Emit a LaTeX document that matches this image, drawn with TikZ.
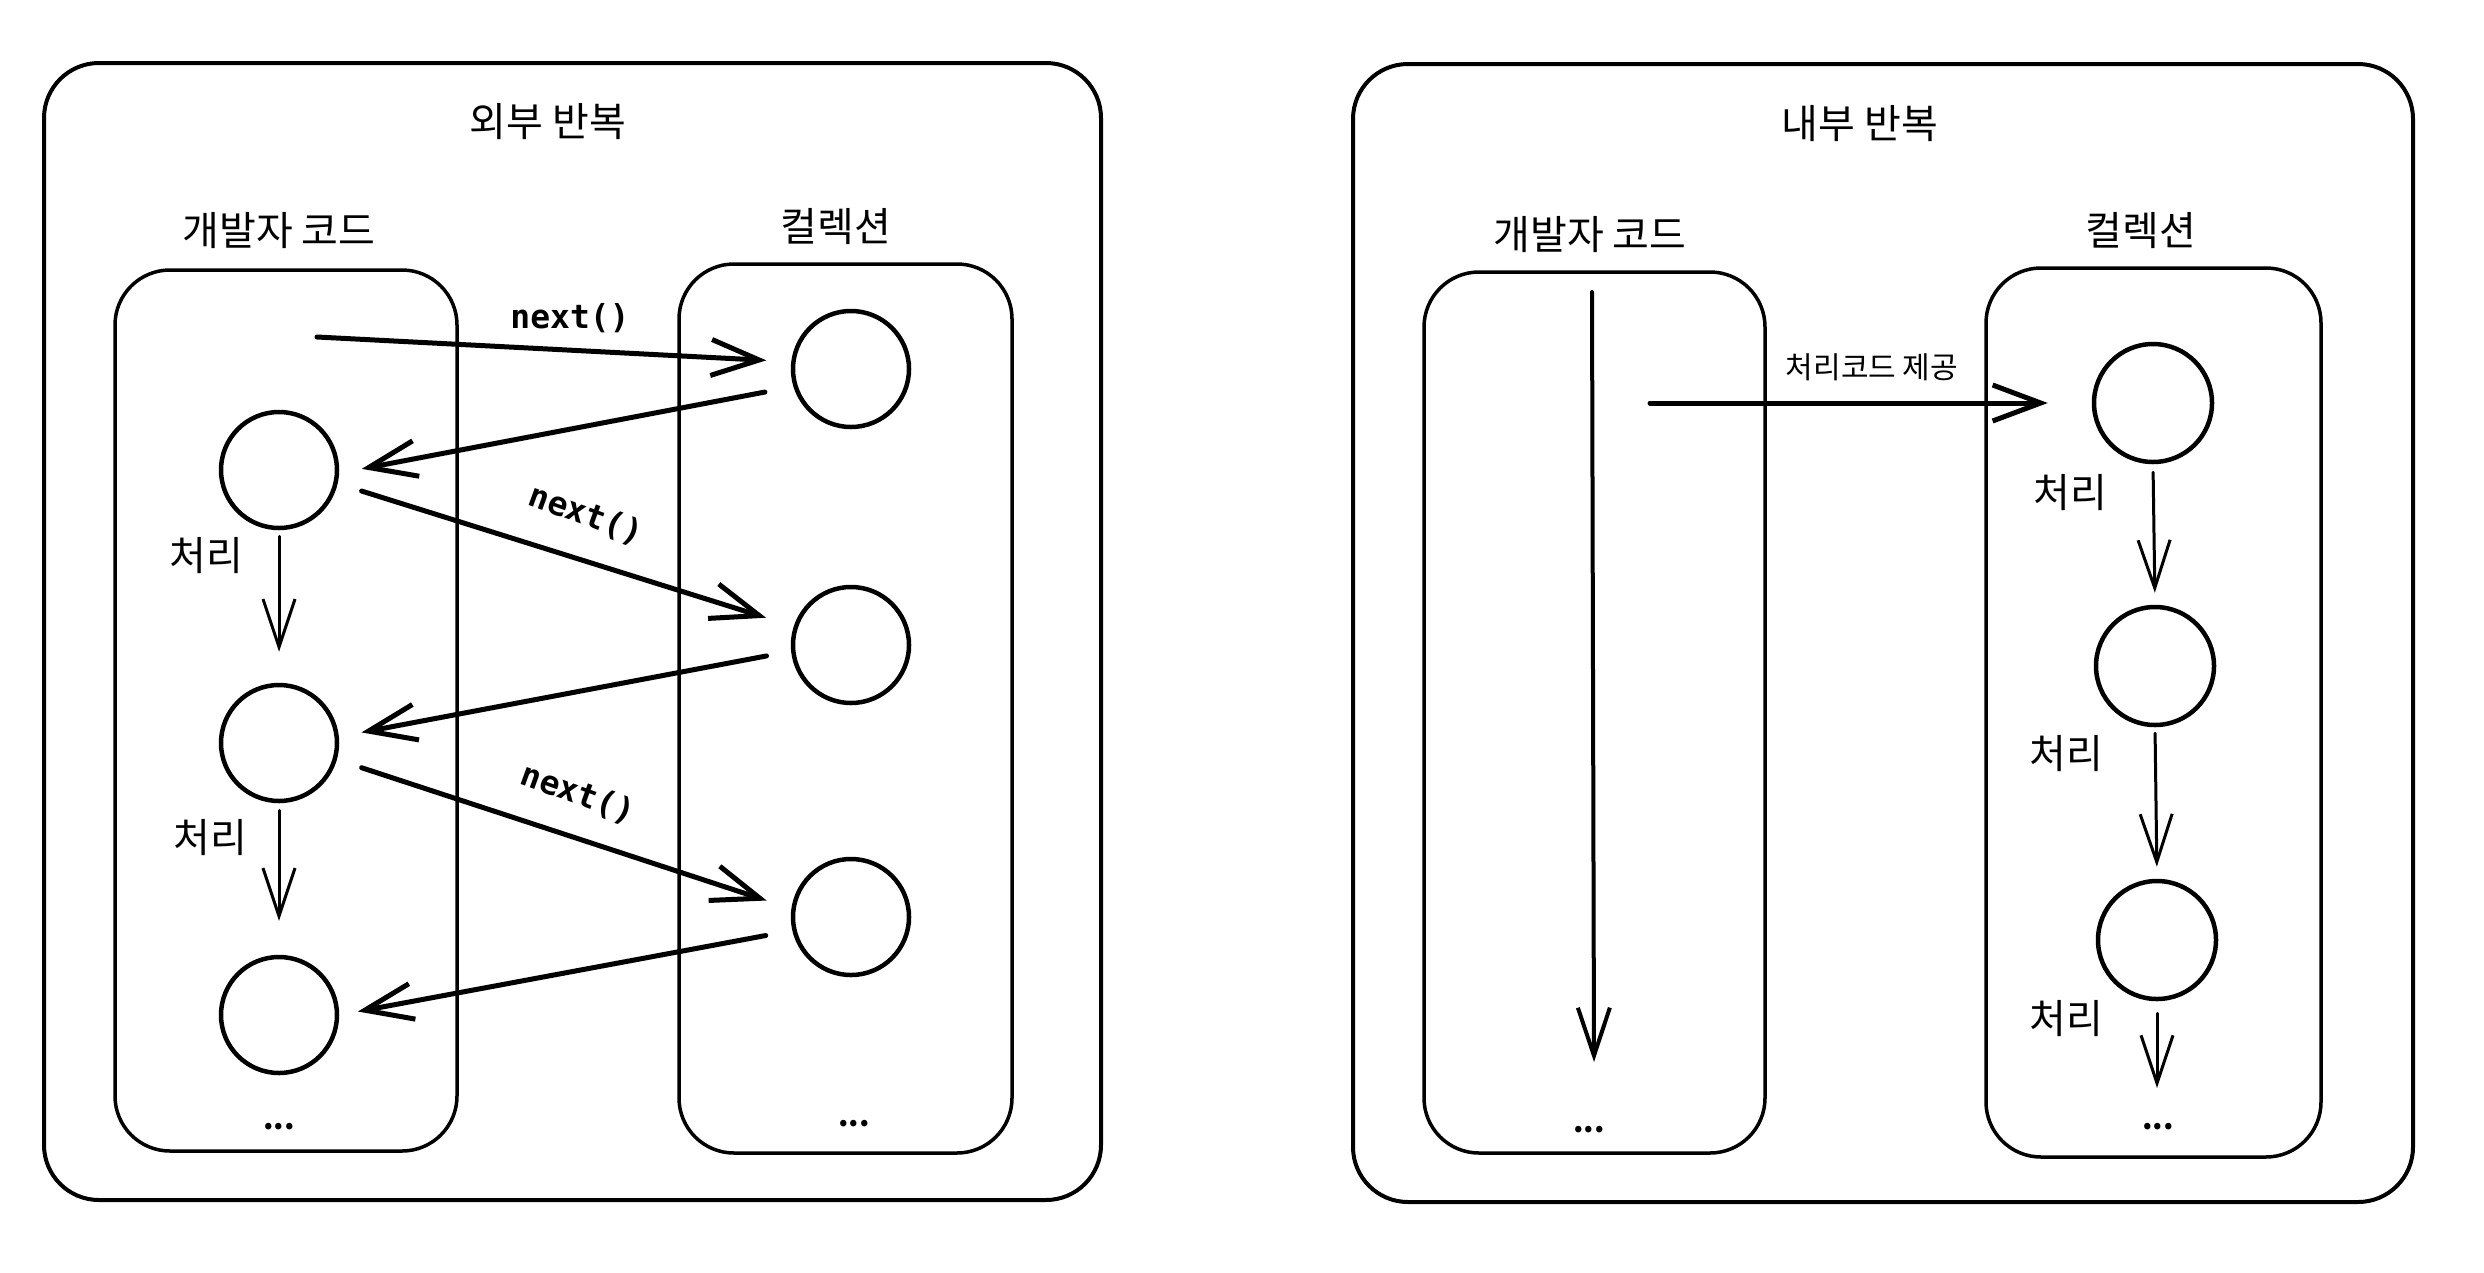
\documentclass[tikz,border=0pt]{standalone}
\usepackage{fontspec}
\setmainfont{Noto Sans CJK KR}
\newfontfamily\codefont{DejaVu Sans Mono}
\usetikzlibrary{arrows.meta}
\begin{document}
\begin{tikzpicture}[x=1pt,y=-1pt, line cap=round, line join=round,
  outerbox/.style={draw, line width=4pt, rounded corners=55pt, inner sep=0pt},
  innerbox/.style={draw, line width=3.5pt, rounded corners=55pt, inner sep=0pt},
  circ/.style={draw, circle, line width=4.5pt, minimum size=116pt, inner sep=0pt},
  arr/.style={line width=5pt, -{Straight Barb[length=48pt,width=36pt]}},
  varr/.style={line width=3pt, -{Straight Barb[length=48pt,width=32pt]}},
  lbl/.style={font=\fontsize{40}{46}\selectfont, inner sep=0pt},
  small/.style={font=\fontsize{30}{36}\selectfont, inner sep=0pt},
  code/.style={font=\codefont\bfseries\fontsize{33}{38}\selectfont, inner sep=0pt},
  dots/.style={font=\bfseries\fontsize{30}{30}\selectfont, inner sep=0pt}]
\useasboundingbox (0,0) rectangle (2484,1272);

% ---------- left: outer iteration ----------
\node[outerbox, minimum width=1057pt, minimum height=1137pt] (oL) at (572.5,631.5) {};
\node[lbl] (tL) at (548,122) {외부 반복};
\node[lbl] (devL) at (279,231) {개발자 코드};
\node[lbl] (colL) at (836,227) {컬렉션};
\node[innerbox, minimum width=342pt, minimum height=881pt] (bDevL) at (286,710.5) {};
\node[innerbox, minimum width=333pt, minimum height=889pt] (bColL) at (845.5,708.5) {};

\node[circ] (c1) at (279,470) {};
\node[circ] (c2) at (279,743) {};
\node[circ] (c3) at (279,1015) {};
\node[circ] (cA) at (851,369) {};
\node[circ] (cB) at (851,645) {};
\node[circ] (cC) at (851,917) {};

\coordinate (s1) at (317,337);
\draw[arr, shorten >=25pt] (s1) -- (cA.173);
\draw[arr, shorten <=29pt, shorten >=23pt] (cA.197) -- (c1.-3);
\draw[arr, shorten <=25pt, shorten >=29pt] (c1.-13) -- (cB.162);
\draw[arr, shorten <=25pt, shorten >=23pt] (cB.186) -- (c2.6);
\draw[arr, shorten <=26pt, shorten >=26pt] (c2.-16) -- (cC.172);
\draw[arr, shorten <=27pt, shorten >=19pt] (cC.193) -- (c3.0);

\node[code] (n1) at (570,318) {next()};
\node[code, rotate=-20] (n2) at (586,515) {next()};
\node[code, rotate=-20] (n3) at (578,794) {next()};

\draw[varr, shorten <=6pt, shorten >=31pt] (c1.south) -- (c2.north);
\draw[varr, shorten <=7pt, shorten >=34pt] (c2.south) -- (c3.north);
\node[lbl] (p1) at (206,556) {처리};
\node[lbl] (p2) at (210,838) {처리};

\node[dots] (d1) at (279,1127) {...};
\node[dots] (d2) at (854,1124) {...};

% ---------- right: internal iteration ----------
\node[outerbox, minimum width=1060pt, minimum height=1138pt] (oR) at (1883,633) {};
\node[lbl] (tR) at (1860,124) {내부 반복};
\node[lbl] (devR) at (1590,235) {개발자 코드};
\node[lbl] (colR) at (2141,231) {컬렉션};
\node[innerbox, minimum width=341pt, minimum height=881pt] (bDevR) at (1594.5,712.5) {};
\node[innerbox, minimum width=335pt, minimum height=889pt] (bColR) at (2153.5,712.5) {};

\coordinate (top) at (1592,292);
\coordinate (bot) at (1594,1062);
\draw[line width=4pt, -{Straight Barb[length=48pt,width=32pt]}] (top) -- (bot);

\node[circ, minimum size=118pt] (r1) at (2153,403) {};
\node[circ, minimum size=118pt] (r2) at (2155,666) {};
\node[circ, minimum size=118pt] (r3) at (2157,940) {};

\coordinate (s2) at (1650,403);
\draw[arr, shorten >=44pt] (s2) -- (r1.west);
\node[small] (give) at (1872,367) {처리코드 제공};

\draw[varr, shorten <=8pt, shorten >=12pt] (r1.south) -- (r2.north);
\draw[varr, shorten <=6pt, shorten >=12pt] (r2.south) -- (r3.north);
\coordinate (e3) at (2157,1088);
\draw[varr, shorten <=12pt] (r3.south) -- (e3);
\node[lbl] (q1) at (2070,493) {처리};
\node[lbl] (q2) at (2066,754) {처리};
\node[lbl] (q3) at (2066,1019) {처리};

\node[dots] (d3) at (1589,1130) {...};
\node[dots] (d4) at (2158,1127) {...};
\end{tikzpicture}
\end{document}
